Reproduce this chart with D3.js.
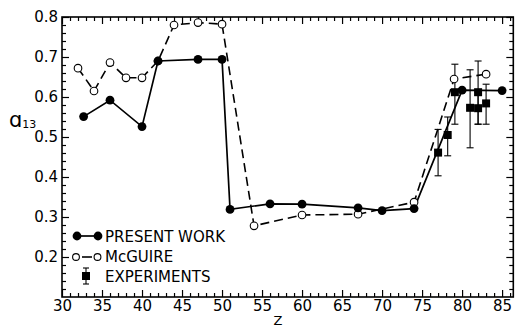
<!DOCTYPE html>
<html><head><meta charset="utf-8">
<script src="https://cdn.jsdelivr.net/npm/d3@7"></script>
<style>body{margin:0;background:#fff}svg{display:block}</style>
</head><body><svg id="c" width="517" height="328"></svg>
<script>
// ---- data ----
const presentZ = [32.7, 36, 40, 42, 47, 50, 51, 56, 60, 67, 70, 74, 80, 85];
const presentA = [0.551, 0.592, 0.526, 0.690, 0.694, 0.694, 0.319, 0.333, 0.332, 0.323, 0.316, 0.321, 0.617, 0.616];
const mcguireZ = [32, 34, 36, 38, 40, 42, 44, 47, 50, 54, 60, 67, 74, 79, 83];
const mcguireA = [0.672, 0.615, 0.686, 0.648, 0.648, 0.690, 0.780, 0.786, 0.782, 0.278, 0.305, 0.307, 0.337, 0.645, 0.657];
const expZ  = [77, 78.2, 79.1, 81, 82, 82, 83];
const expA  = [0.461, 0.505, 0.612, 0.573, 0.612, 0.572, 0.584];
const expLo = [0.403, 0.453, 0.532, 0.473, 0.532, 0.532, 0.532];
const expHi = [0.519, 0.550, 0.682, 0.668, 0.690, 0.612, 0.632];
const xTicks = [30, 35, 40, 45, 50, 55, 60, 65, 70, 75, 80, 85];
const yTicks = [0.2, 0.3, 0.4, 0.5, 0.6, 0.7, 0.8];
const legendLabels = ["PRESENT WORK", "McGUIRE", "EXPERIMENTS"];

const svg = d3.select("#c");
const L = 62, R = 513.3, T = 17, B = 297;
const x = d3.scaleLinear().domain([30, 86.4]).range([L, R]);
const y = d3.scaleLinear().domain([0.1, 0.8]).range([B, T]);
const FONT = "DejaVu Sans";

const xMinor = d3.range(30, 87, 1).filter(v => v % 5 !== 0);
const yMinor = d3.range(0.1, 0.801, 0.02).map(v => +v.toFixed(2)).filter(v => Math.abs(v*10 - Math.round(v*10)) > 1e-6);

function styleAxis(g, labels) {
  g.select(".domain").remove();
  g.selectAll("line").attr("stroke", "#000").attr("stroke-width", 1.2);
  if (labels) g.selectAll("text").attr("font-family", FONT).attr("font-size", 15).attr("fill", "#000");
  else g.selectAll("text").remove();
}
// bottom
svg.append("g").attr("transform", `translate(0,${B})`)
  .call(d3.axisBottom(x).tickValues(xTicks).tickSize(-7).tickPadding(3).tickFormat(d3.format("d")))
  .call(g => styleAxis(g, true));
svg.append("g").attr("transform", `translate(0,${B})`)
  .call(d3.axisBottom(x).tickValues(xMinor).tickSize(-4)).call(g => styleAxis(g, false));
// top
svg.append("g").attr("transform", `translate(0,${T})`)
  .call(d3.axisTop(x).tickValues(xTicks).tickSize(-7)).call(g => styleAxis(g, false));
svg.append("g").attr("transform", `translate(0,${T})`)
  .call(d3.axisTop(x).tickValues(xMinor).tickSize(-4)).call(g => styleAxis(g, false));
// left
svg.append("g").attr("transform", `translate(${L},0)`)
  .call(d3.axisLeft(y).tickValues(yTicks).tickSize(-7).tickPadding(4).tickFormat(d3.format(".1f")))
  .call(g => styleAxis(g, true));
svg.append("g").attr("transform", `translate(${L},0)`)
  .call(d3.axisLeft(y).tickValues(yMinor).tickSize(-4)).call(g => styleAxis(g, false));
// right
svg.append("g").attr("transform", `translate(${R},0)`)
  .call(d3.axisRight(y).tickValues(yTicks).tickSize(-7)).call(g => styleAxis(g, false));
svg.append("g").attr("transform", `translate(${R},0)`)
  .call(d3.axisRight(y).tickValues(yMinor).tickSize(-4)).call(g => styleAxis(g, false));

// frame
svg.append("rect").attr("x", L).attr("y", T).attr("width", R - L).attr("height", B - T)
  .attr("fill", "none").attr("stroke", "#000").attr("stroke-width", 1.6);

// axis titles
const yl = svg.append("text").attr("x", 9).attr("y", 127).attr("font-family", FONT).attr("font-size", 21).attr("fill", "#000");
yl.append("tspan").text("ɑ");
yl.append("tspan").attr("font-size", 11).attr("dy", 1).text("13");
svg.append("text").attr("x", 278).attr("y", 324.5).attr("text-anchor", "middle")
  .attr("font-family", FONT).attr("font-size", 13).attr("fill", "#000").text("Z");

const line = d3.line().x(d => x(d[0])).y(d => y(d[1]));
const pres = presentZ.map((z, i) => [z, presentA[i]]);
const mcg = mcguireZ.map((z, i) => [z, mcguireA[i]]);

svg.append("path").datum(mcg).attr("d", line).attr("fill", "none").attr("stroke", "#000")
  .attr("stroke-width", 1.6).attr("stroke-dasharray", "9,5");
svg.append("path").datum(pres).attr("d", line).attr("fill", "none").attr("stroke", "#000")
  .attr("stroke-width", 1.7);

// experiments
const ex = svg.append("g");
expZ.forEach((z, i) => {
  const cx = x(z);
  ex.append("line").attr("x1", cx).attr("x2", cx).attr("y1", y(expLo[i])).attr("y2", y(expHi[i])).attr("stroke", "#000").attr("stroke-width", 1.1);
  [expLo[i], expHi[i]].forEach(v => ex.append("line").attr("x1", cx - 3.5).attr("x2", cx + 3.5).attr("y1", y(v)).attr("y2", y(v)).attr("stroke", "#000").attr("stroke-width", 1.1));
  ex.append("rect").attr("x", cx - 4).attr("y", y(expA[i]) - 4).attr("width", 8).attr("height", 8).attr("fill", "#000");
});

svg.append("g").selectAll("circle").data(mcg).join("circle")
  .attr("cx", d => x(d[0])).attr("cy", d => y(d[1])).attr("r", 3.8)
  .attr("fill", "#fff").attr("stroke", "#000").attr("stroke-width", 1.1);
svg.append("g").selectAll("circle").data(pres).join("circle")
  .attr("cx", d => x(d[0])).attr("cy", d => y(d[1])).attr("r", 4.4).attr("fill", "#000");

// legend
const lg = svg.append("g");
lg.append("line").attr("x1", 77).attr("x2", 98).attr("y1", 236).attr("y2", 236).attr("stroke", "#000").attr("stroke-width", 1.7);
[77, 98].forEach(cx => lg.append("circle").attr("cx", cx).attr("cy", 236).attr("r", 4.4).attr("fill", "#000"));
lg.append("line").attr("x1", 82).attr("x2", 92).attr("y1", 257).attr("y2", 257).attr("stroke", "#000").attr("stroke-width", 1.6);
[76, 97.5].forEach(cx => lg.append("circle").attr("cx", cx).attr("cy", 257).attr("r", 3.4).attr("fill", "#fff").attr("stroke", "#000").attr("stroke-width", 1.1));
lg.append("line").attr("x1", 86).attr("x2", 86).attr("y1", 268).attr("y2", 284).attr("stroke", "#000").attr("stroke-width", 1.1);
[268, 284].forEach(v => lg.append("line").attr("x1", 83).attr("x2", 89).attr("y1", v).attr("y2", v).attr("stroke", "#000").attr("stroke-width", 1.1));
lg.append("rect").attr("x", 82).attr("y", 272).attr("width", 8).attr("height", 8).attr("fill", "#000");
[241.5, 261.5, 281.5].forEach((yy, i) => lg.append("text").attr("x", 105).attr("y", yy)
  .attr("font-family", FONT).attr("font-size", 15).attr("fill", "#000").text(legendLabels[i]));
</script></body></html>
